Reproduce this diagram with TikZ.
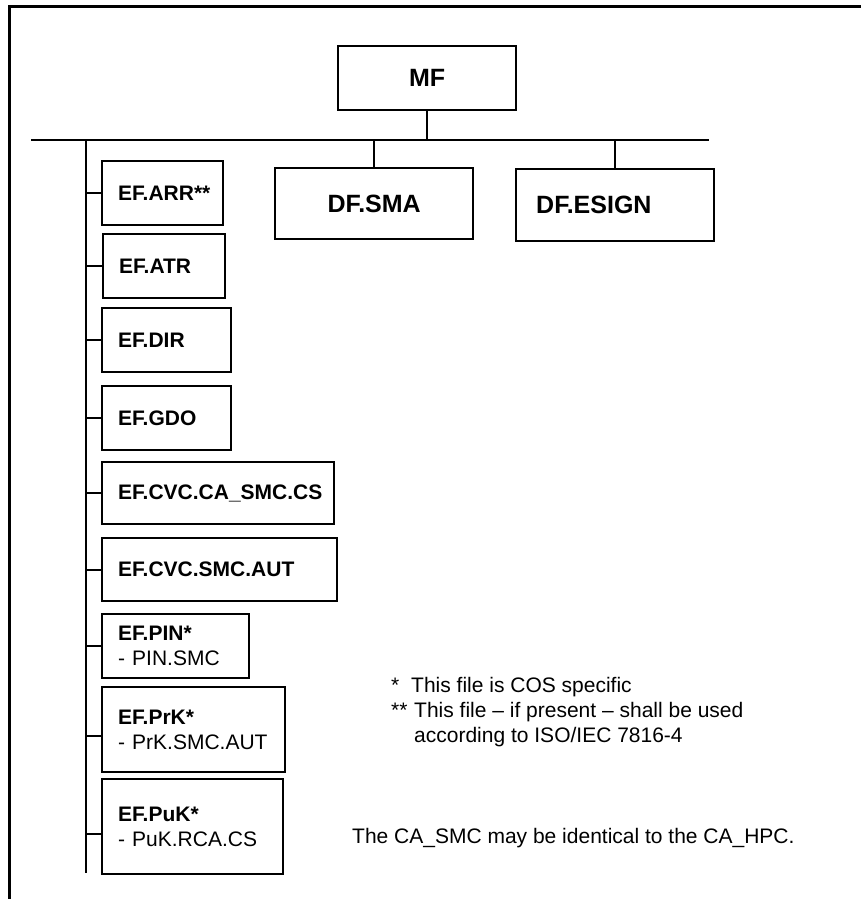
\documentclass[tikz,border=0pt]{standalone}
\usepackage{fontspec}
\setmainfont{Liberation Sans}
\begin{document}
\begin{tikzpicture}[x=1pt, y=-1pt,
  box/.style={draw, line width=2.4pt, anchor=north west, inner sep=0pt},
  efbox/.style={box, align=left, inner xsep=16pt, font=\fontsize{21}{25}\selectfont},
  dfbox/.style={box, font=\fontsize{25}{30}\selectfont\bfseries},
  link/.style={line width=2pt},
  note/.style={anchor=base west, inner sep=0pt, font=\fontsize{21}{25}\selectfont}]
\useasboundingbox (0,0) rectangle (861,899);
% Frame
\draw[line width=3pt] (9,899) -- (9,7) -- (861,7);
% Master file and dedicated files
\node[dfbox, minimum width=178pt, minimum height=64pt] (mf) at (337,45) {MF};
\node[dfbox, minimum width=198pt, minimum height=71pt] (sma) at (274,167) {DF.SMA};
\node[dfbox, align=left, inner xsep=20pt, text width=158pt, minimum height=72pt] (esign) at (515,168) {DF.ESIGN};
% Elementary files
\node[efbox, text width=89pt, minimum height=64pt] (arr) at (101,160) {\textbf{EF.ARR**}};
\node[efbox, text width=90pt, minimum height=64pt] (atr) at (102,233) {\textbf{EF.ATR}};
\node[efbox, text width=97pt, minimum height=64pt] (dir) at (101,307) {\textbf{EF.DIR}};
\node[efbox, text width=97pt, minimum height=64pt] (gdo) at (101,385) {\textbf{EF.GDO}};
\node[efbox, text width=200pt, minimum height=62pt] (cacs) at (101,461) {\textbf{EF.CVC.CA\_SMC.CS}};
\node[efbox, text width=203pt, minimum height=63pt] (cvcaut) at (101,537) {\textbf{EF.CVC.SMC.AUT}};
\node[efbox, text width=115pt, minimum height=64pt] (pin) at (101,613) {\textbf{EF.PIN*}\\- PIN.SMC};
\node[efbox, text width=151pt, minimum height=85pt] (prk) at (101,686) {\textbf{EF.PrK*}\\- PrK.SMC.AUT};
\node[efbox, text width=149pt, minimum height=95pt] (puk) at (101,778) {\textbf{EF.PuK*}\\- PuK.RCA.CS};
% Bus
\coordinate (busW) at (31,140);
\coordinate (busE) at (709,140);
\coordinate (trunk) at (86,140);
\coordinate (trunkend) at (86,873);
\draw[link] (busW) -- (busE);
\draw[link] (mf.south) -- (mf.south |- busW);
\draw[link] (sma.north) -- (sma.north |- busW);
\draw[link] (esign.north) -- (esign.north |- busW);
\draw[link] (trunk) -- (trunkend);
\foreach \f in {arr,atr,dir,gdo,cacs,cvcaut,pin}
  \draw[link] (\f.west) -- (\f.west -| trunk);
\draw[link] ([yshift=-6pt]prk.west) -- ([yshift=-6pt]prk.west -| trunk);
\draw[link] ([yshift=-7pt]puk.west) -- ([yshift=-7pt]puk.west -| trunk);
% Notes
\node[note] (star1) at (391,692) {*};
\node[note] (cos) at (411,692) {This file is COS specific};
\node[note] (star2) at (391,717) {**};
\node[note] (present) at (414,717) {This file – if present – shall be used};
\node[note] (iso) at (414,742) {according to ISO/IEC 7816-4};
\node[note] (hpc) at (352,843) {The CA\_SMC may be identical to the CA\_HPC.};
\end{tikzpicture}
\end{document}
